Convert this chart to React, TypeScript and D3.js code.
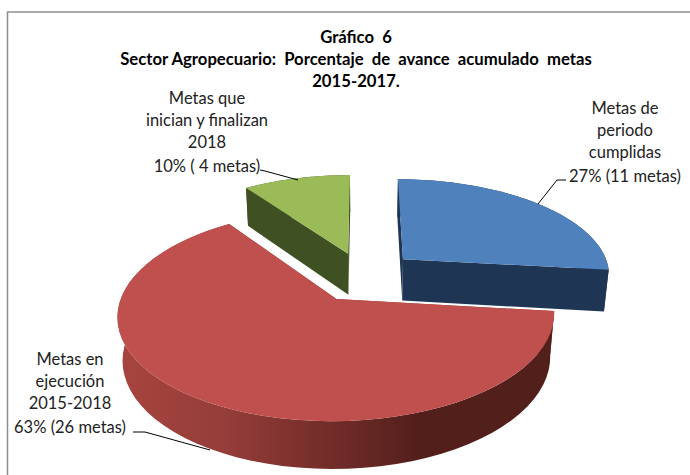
import React from 'react';
import * as d3 from 'd3';

const metas = ['Metas de periodo cumplidas', 'Metas en ejecución', 'Metas que inician y finalizan'];
const values = [11, 26, 4];
const topColors = ['#4f81bd', '#c0504d', '#9bbb59'];
const wallColors = ['#1f3554', '#8c3a37', '#3f5023'];
const titleLines = ['Gráfico  6', 'Sector Agropecuario:  Porcentaje  de  avance  acumulado  metas', '2015-2017.'];
const labelLines = [
  ['Metas de', 'periodo', 'cumplidas', '27% (11 metas)'],
  ['Metas en', 'ejecución', '2015-2018', '63% (26 metas)'],
  ['Metas que', 'inician y finalizan', '2018', '10% ( 4 metas)'],
];

const W = 690;
const H = 475;

// camera for the tilted pie
const cx = 363;
const cy = 278;
const radiusX = 209;
const radiusY = 97;
const thick = 43;
const persp = 0.149;
const depthPersp = 0.02;

// how far each slice is pulled out, in radii
const pullX = [0.197, -0.123, -0.074];
const pullY = [-0.2, 0.21, -0.26];

const project = (u: number, v: number, d: number): [number, number] => {
  const s = 1 / (1 - persp * v + depthPersp * d);
  return [cx + radiusX * u * s, cy + (radiusY * v + thick * d) * s];
};

const pieGen = d3.pie<number>().sort(null).startAngle(0).endAngle(2 * Math.PI);
const arcs = pieGen(values);

const line = d3.line();

const sliceShape = (a: d3.PieArcDatum<number>, i: number) => {
  const ox = pullX[i];
  const oy = pullY[i];
  const rim = d3.range(0, 61).map(k => a.startAngle + ((a.endAngle - a.startAngle) * k) / 60);
  const at = (t: number, d: number) => project(ox + Math.sin(t), oy - Math.cos(t), d);
  const apex = (d: number) => project(ox, oy, d);
  return {
    top: line([apex(0), ...rim.map(t => at(t, 0))]) + 'Z',
    startFace: line([apex(0), at(a.startAngle, 0), at(a.startAngle, 1), apex(1)]) + 'Z',
    endFace: line([apex(0), at(a.endAngle, 0), at(a.endAngle, 1), apex(1)]) + 'Z',
    wall: line([...rim.map(t => at(t, 0)), ...rim.slice().reverse().map(t => at(t, 1))]) + 'Z',
  };
};

// leader lines [label side, elbow, slice side]
const leaders: [number, number][][] = [
  [[566, 180], [557, 180], [538, 204]],
  [[133, 432], [145, 432], [210, 450]],
  [[260, 170], [265, 171], [298, 180]],
];

const labelX = [625, 70, 207];
const labelY = [114, 365, 104];
const lineOffset = [0, 22, 44, 68];

const textFont = 'Lato, "Open Sans", sans-serif';

export default function App() {
  const shapes = arcs.map(sliceShape);
  // paint back to front: green, blue, red
  const order = [2, 0, 1];
  return (
    <svg width={W} height={H} style={{ position: 'absolute', left: 0, top: 0, background: '#fff' }}>
      <defs>
        <linearGradient id="redWall" gradientUnits="userSpaceOnUse" x1={118} x2={420} y1={0} y2={0}>
          <stop offset="0" stopColor="#a8443f" />
          <stop offset="0.35" stopColor="#953d39" />
          <stop offset="0.75" stopColor="#6e2a27" />
          <stop offset="1" stopColor="#521f1b" />
        </linearGradient>
      </defs>
      <path d={line([[7.5, H], [7.5, 12], [W, 12]]) ?? ''} fill="none" stroke="#8e8e8e" strokeWidth={1.5} />
      <g fontFamily={textFont} fontWeight="bold" fontSize={16.7} fill="#000" textAnchor="middle">
        {titleLines.map((t, i) => (
          <text key={t} x={356} y={43 + i * 22} style={{ whiteSpace: 'pre' }}>{t}</text>
        ))}
      </g>
      {order.map(i => (
        <g key={metas[i]}>
          <path d={shapes[i].startFace} fill={wallColors[i]} />
          <path d={shapes[i].endFace} fill={wallColors[i]} />
          <path d={shapes[i].wall} fill={i === 1 ? 'url(#redWall)' : wallColors[i]} />
          <path d={shapes[i].top} fill={topColors[i]} />
        </g>
      ))}
      {leaders.map((l, i) => (
        <path key={i} d={line(l) ?? ''} fill="none" stroke="#000" strokeWidth={1} />
      ))}
      <g fontFamily={textFont} fontSize={16.5} fill="#222" textAnchor="middle">
        {labelLines.map((lines, i) =>
          lines.map((t, j) => (
            <text key={t} x={labelX[i]} y={labelY[i] + lineOffset[j]}>{t}</text>
          ))
        )}
      </g>
    </svg>
  );
}
